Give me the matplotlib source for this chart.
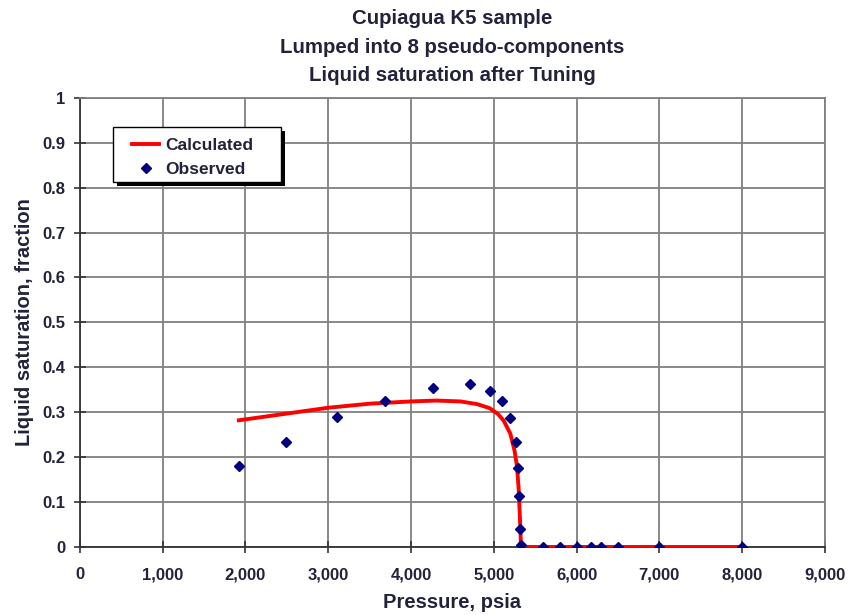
import numpy as np
import matplotlib
matplotlib.use('Agg')
import matplotlib.pyplot as plt
from matplotlib.patches import Rectangle

plt.rcParams['font.family'] = ['Liberation Sans', 'DejaVu Sans']

# observed liquid saturation
obs_p = [1920, 2490, 3100, 3680, 4270, 4710, 4960, 5100, 5200, 5265, 5290, 5305, 5320, 5325,
         5600, 5800, 6000, 6180, 6300, 6500, 7000, 8000]
obs_s = [0.180, 0.234, 0.290, 0.325, 0.354, 0.363, 0.347, 0.325, 0.287, 0.234, 0.176, 0.114, 0.040, 0.004,
         0.0, 0.0, 0.0, 0.0, 0.0, 0.0, 0.0, 0.0]

# calculated (tuned EOS)
calc_p = [1920, 2500, 3000, 3500, 4000, 4300, 4600, 4800, 4950, 5050, 5120, 5200, 5250, 5280,
          5300, 5312, 5322, 5328, 5600, 6000, 7000, 8000]
calc_s = [0.282, 0.297, 0.310, 0.319, 0.324, 0.326, 0.324, 0.318, 0.309, 0.296, 0.281, 0.252, 0.215, 0.180,
          0.130, 0.080, 0.035, 0.0, 0.0, 0.0, 0.0, 0.0]

txt = '#22223a'

fig = plt.figure(figsize=(8.5, 6.15), dpi=100)
ax = fig.add_axes([0.094, 0.1106, 0.8765, 0.7304])

ax.plot(calc_p, calc_s, color='#ff0000', lw=2.8, label='Calculated', zorder=3)
ax.plot(obs_p, obs_s, ls='none', marker='D', ms=5, color='#000080', label='Observed', zorder=4)

ax.set_xlim(0, 9000)
ax.set_ylim(0, 1)
ax.set_xticks(np.arange(0, 9001, 1000))
ax.set_xticklabels(['{:,}'.format(v) for v in range(0, 9001, 1000)])
ax.set_yticks(np.arange(0, 1.01, 0.1))
ax.set_yticklabels(['0', '0.1', '0.2', '0.3', '0.4', '0.5', '0.6', '0.7', '0.8', '0.9', '1'])
ax.grid(True, color='#808080', lw=1.3)
ax.set_axisbelow(True)
for s in ['top', 'right']:
    ax.spines[s].set_color('#808080')
    ax.spines[s].set_linewidth(1.3)
for s in ['left', 'bottom']:
    ax.spines[s].set_color('#333333')
    ax.spines[s].set_linewidth(1.3)
ax.tick_params(direction='inout', length=9, width=1.2, color='#333333',
               labelsize=12, labelcolor=txt)
ax.tick_params(axis='x', pad=10)
ax.tick_params(axis='y', pad=6)
for lb in ax.get_xticklabels() + ax.get_yticklabels():
    lb.set_fontweight('bold')

ax.set_xlabel('Pressure, psia', fontsize=14.5, fontweight='bold', color=txt, labelpad=8)
ax.set_ylabel('Liquid saturation, fraction', fontsize=14.5, fontweight='bold', color=txt, labelpad=6)
fig.text(0.532, 0.985, 'Cupiagua K5 sample\nLumped into 8 pseudo-components\nLiquid saturation after Tuning',
         ha='center', va='top', fontsize=14.7, fontweight='bold', color=txt, linespacing=1.62)

# legend box with a solid drop shadow, Excel style
bx, by, bw, bh = 0.0443, 0.8129, 0.2255, 0.1225
ax.add_patch(Rectangle((bx + 0.0054, by - 0.0089), bw, bh, transform=ax.transAxes,
                       facecolor='black', edgecolor='none', zorder=4.5))
ax.add_patch(Rectangle((bx, by), bw, bh, transform=ax.transAxes,
                       facecolor='white', edgecolor='black', lw=1.0, zorder=4.6))
leg = ax.legend(loc='upper left', bbox_to_anchor=(0.0705, 0.911), frameon=False,
                prop={'weight': 'bold', 'size': 12.5}, handlelength=1.55, borderpad=0.0,
                labelspacing=0.53, borderaxespad=0.0, handletextpad=0.35)
leg.set_zorder(5)
for t in leg.get_texts():
    t.set_color(txt)

fig.savefig('out.png', dpi=100)
